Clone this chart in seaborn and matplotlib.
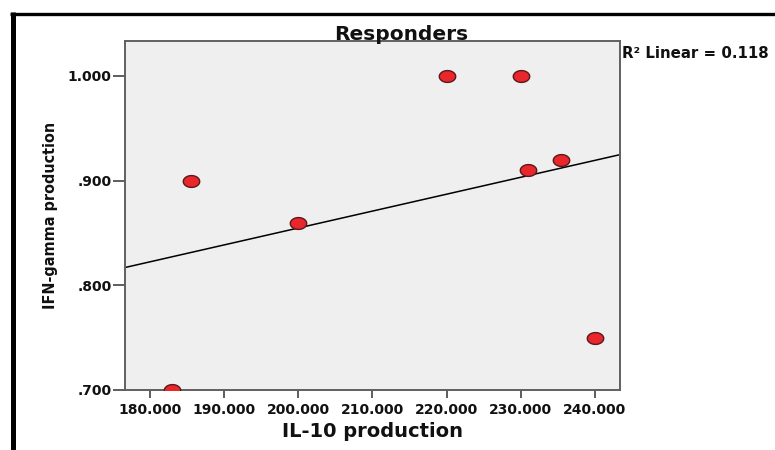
import numpy as np
import pandas as pd
import matplotlib
matplotlib.use("Agg")
import matplotlib.pyplot as plt
from matplotlib.path import Path
from matplotlib.lines import Line2D
from matplotlib.ticker import FuncFormatter
import seaborn as sns

# Data
il10 = [183.0, 185.5, 200.0, 220.0, 230.0, 231.0, 235.5, 240.0]
ifng = [0.700, 0.900, 0.860, 1.000, 1.000, 0.910, 0.920, 0.750]
x_ticks = [180, 190, 200, 210, 220, 230, 240]
y_ticks = [0.700, 0.800, 0.900, 1.000]
title = "Responders"
r2_label = "R\u00b2 Linear = 0.118"

df = pd.DataFrame({"IL-10 production": il10, "IFN-gamma production": ifng})

sns.set_style("white")
plt.rcParams["font.family"] = ["DejaVu Sans"]

fig = plt.figure(figsize=(7.75, 4.5), dpi=100)
ax = fig.add_axes([125 / 775, 60 / 450, 495 / 775, 349 / 450])
ax.set_facecolor("#efefef")
ax.set_xlim(176.6, 243.4)
ax.set_ylim(0.700, 1.0334)

# elliptical marker (the reference is horizontally stretched)
t = np.linspace(0, 2 * np.pi, 60)
ell = Path(np.column_stack([np.cos(t), 0.72 * np.sin(t)]), closed=True)

sns.regplot(data=df, x="IL-10 production", y="IFN-gamma production", ax=ax,
            ci=None, truncate=False, color="#e8262b", marker=ell,
            scatter_kws={"s": 140, "edgecolor": "#5a1a1a", "linewidths": 1.0,
                         "alpha": 1, "zorder": 3},
            line_kws={"color": "black", "lw": 1.1, "zorder": 2})

ax.set_xticks(x_ticks)
ax.set_yticks(y_ticks)
ax.xaxis.set_major_formatter(FuncFormatter(lambda v, p: f"{v:.3f}"))
ax.yaxis.set_major_formatter(FuncFormatter(lambda v, p: f"{v:.3f}".lstrip("0")))

for s in ax.spines.values():
    s.set_visible(True)
    s.set_color("#606060")
    s.set_linewidth(1.4)

ax.tick_params(axis="x", direction="out", length=6, width=1.3, color="#505050",
               pad=3.5, labelsize=10, bottom=True)
ax.tick_params(axis="y", direction="out", length=8.5, width=1.3, color="#505050",
               pad=1, labelsize=10, left=True)
for lab in ax.get_xticklabels() + ax.get_yticklabels():
    lab.set_fontweight("bold")
    lab.set_color("#111111")

ax.set_xlabel("IL-10 production", fontsize=14, fontweight="bold", color="#111111")
ax.xaxis.set_label_coords(0.5, -0.135)
ax.xaxis.label.set_va("baseline")
ax.set_ylabel("IFN-gamma production", fontsize=11.5, fontweight="bold",
              color="#111111", fontstretch="condensed")
ax.yaxis.label.set_va("center")
ax.yaxis.set_label_coords(-0.1515, 0.5)

fig.text(401 / 775, (450 - 39.5) / 450, title, ha="center", va="baseline",
         fontsize=14.5, fontweight="bold", color="#111111")
fig.text(622 / 775, (450 - 58) / 450, r2_label, ha="left", va="baseline",
         fontsize=10.8, fontweight="bold", color="#111111")

# thick black frame lines (left and top)
fig.add_artist(Line2D([12.5 / 775, 12.5 / 775], [0, (450 - 12) / 450],
                      transform=fig.transFigure, color="black", lw=3.6,
                      solid_capstyle="butt"))
fig.add_artist(Line2D([10 / 775, 1.0], [(450 - 13.5) / 450, (450 - 13.5) / 450],
                      transform=fig.transFigure, color="black", lw=2.4,
                      solid_capstyle="butt"))

fig.savefig("out.png", dpi=100)
